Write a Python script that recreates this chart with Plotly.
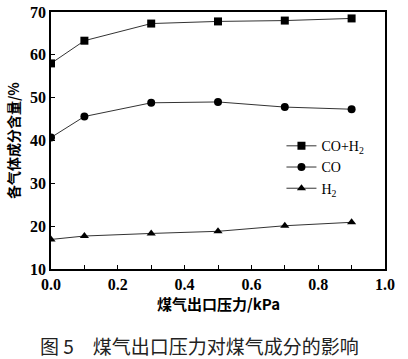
import plotly.graph_objects as go

pressure = [0.0, 0.1, 0.3, 0.5, 0.7, 0.9]
co_h2 = [58.0, 63.3, 67.3, 67.8, 68.0, 68.5]
co = [40.7, 45.6, 48.8, 49.0, 47.8, 47.3]
h2 = [16.9, 17.7, 18.3, 18.8, 20.1, 20.9]

series_names = ["CO+H<sub>2</sub>", "CO", "H<sub>2</sub>"]
x_ticks = [0.0, 0.2, 0.4, 0.6, 0.8, 1.0]
x_tick_text = ["0.0", "0.2", "0.4", "0.6", "0.8", "1.0"]
y_ticks = [10, 20, 30, 40, 50, 60, 70]

serif = "Liberation Serif"
cjk = "Noto Sans CJK SC"

fig = go.Figure()
symbols = ["square", "circle", "triangle-up"]
for name, vals, sym in zip(series_names, [co_h2, co, h2], symbols):
    fig.add_trace(go.Scatter(
        x=pressure, y=vals, name=name, mode="lines+markers",
        line=dict(color="#333333", width=1),
        marker=dict(symbol=sym, size=8, color="black"),
    ))

fig.update_layout(
    width=408, height=359,
    margin=dict(l=51, r=23, t=12, b=90),
    plot_bgcolor="white", paper_bgcolor="white",
    font=dict(family=serif, color="black", size=15),
    showlegend=True,
    legend=dict(x=0.69, y=0.54, xanchor="left", yanchor="top",
                bgcolor="rgba(0,0,0,0)", font=dict(family=serif, size=14),
                tracegroupgap=0, itemwidth=30),
    xaxis=dict(range=[0, 1.0], tickvals=x_ticks,
               ticktext=["<b>%s</b>" % t for t in x_tick_text],
               ticks="inside", ticklen=4, tickcolor="black",
               minor=dict(dtick=0.1, ticks="inside", ticklen=4, tickcolor="black"),
               showline=True, linecolor="black", linewidth=1.5, mirror=True,
               showgrid=False, zeroline=False, automargin=False,
               tickfont=dict(family=serif, size=16)),
    yaxis=dict(range=[10, 70], tickvals=y_ticks,
               ticktext=["<b>%d</b>" % v for v in y_ticks],
               ticks="inside", ticklen=4, tickcolor="black",
               showline=True, linecolor="black", linewidth=1.5, mirror=True,
               showgrid=False, zeroline=False, automargin=False,
               tickfont=dict(family=serif, size=16)),
)

fig.add_annotation(text="<b>各气体成分含量/%</b>", xref="paper", yref="paper",
                   x=-0.115, y=0.5, xanchor="center", yanchor="middle",
                   textangle=-90, showarrow=False,
                   font=dict(family=cjk, size=14, color="black"))
fig.add_annotation(text="<b>煤气出口压力/kPa</b>", xref="paper", yref="paper",
                   x=0.5, y=-0.133, xanchor="center", yanchor="middle",
                   showarrow=False, font=dict(family=cjk, size=15, color="black"))
fig.add_annotation(text="图 5　煤气出口压力对煤气成分的影响", xref="paper", yref="paper",
                   x=0.446, y=-0.296, xanchor="center", yanchor="middle",
                   showarrow=False, font=dict(family=cjk, size=19, color="#222222"))

fig.write_html("out.html", config={"displayModeBar": False},
               post_script="document.body.style.margin='0';document.body.style.overflow='hidden';")
